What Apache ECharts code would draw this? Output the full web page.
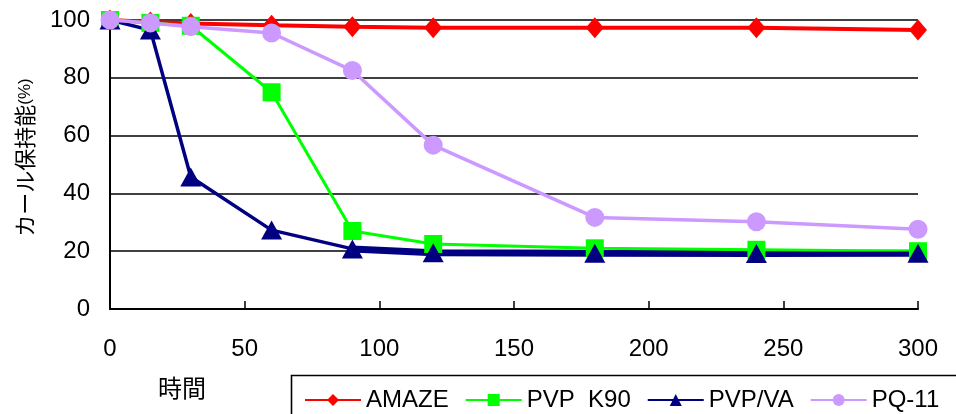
<!DOCTYPE html>
<html>
<head>
<meta charset="utf-8">
<script src="https://cdn.jsdelivr.net/npm/echarts@6/dist/echarts.min.js"></script>
<style>
html,body{margin:0;padding:0;background:#fff;}
#chart{width:956px;height:414px;}
</style>
</head>
<body>
<div id="chart"></div>
<script>
const times = [0, 15, 30, 60, 90, 120, 180, 240, 300];
const amaze = [100, 99.3, 98.8, 98.2, 97.7, 97.3, 97.3, 97.3, 96.5];
const pvpK90 = [100, 99, 98, 75, 27, 22.5, 21, 20.5, 20];
const pvpVA = [100, 96.5, 45.7, 27.3, 20.8, 19.5, 19.3, 19.2, 19.3];
const pq11 = [100, 99, 97.7, 95.5, 82.5, 56.7, 31.7, 30.2, 27.6];
const seriesNames = ['AMAZE', 'PVP  K90', 'PVP/VA', 'PQ-11'];
const yTicks = [0, 20, 40, 60, 80, 100];
const xTicks = [0, 50, 100, 150, 200, 250, 300];

const pairs = arr => times.map((t, i) => [t, arr[i]]);
const FONT = '"Liberation Sans", Arial, sans-serif';

const chart = echarts.init(document.getElementById('chart'));
chart.setOption({
  animation: false,
  backgroundColor: '#fff',
  grid: { left: 110, right: 38, top: 20, bottom: 105 },
  xAxis: {
    type: 'value', min: xTicks[0], max: xTicks[xTicks.length - 1], interval: 50,
    axisLine: { show: true, lineStyle: { color: '#000', width: 2 } },
    axisTick: { show: true, inside: true, length: 8, lineStyle: { color: '#000', width: 1.5 } },
    splitLine: { show: false },
    axisLabel: { color: '#000', fontSize: 24, fontFamily: FONT, margin: 28 }
  },
  yAxis: {
    type: 'value', min: yTicks[0], max: yTicks[yTicks.length - 1], interval: 20,
    name: '{a|カール保持能}{b|(%)}',
    nameLocation: 'middle', nameRotate: 90, nameGap: 74,
    nameTextStyle: {
      padding: [0, 0, 0, 14],
      rich: {
        a: { fontSize: 22, fontFamily: '"Noto Sans CJK JP", sans-serif', color: '#000' },
        b: { fontSize: 17, fontFamily: FONT, color: '#000' }
      }
    },
    axisLine: { show: true, lineStyle: { color: '#000', width: 2 } },
    axisTick: { show: false },
    splitLine: { show: true, lineStyle: { color: '#000', width: 1.6 } },
    axisLabel: { color: '#000', fontSize: 24, fontFamily: FONT, margin: 20 }
  },
  legend: {
    data: seriesNames,
    left: 299, top: 383, width: 700, orient: 'horizontal',
    itemWidth: 56, itemHeight: 15, itemGap: 16,
    textStyle: { color: '#000', fontSize: 24, fontFamily: FONT }
  },
  graphic: [
    { type: 'rect', left: 289, top: 373, shape: { width: 700, height: 60 },
      style: { fill: 'none', stroke: '#000', lineWidth: 1.6 }, z: 0 },
    { type: 'text', x: 182, y: 388,
      style: { text: '時間', fontSize: 24, fontFamily: '"Noto Sans CJK JP", sans-serif', fill: '#000',
               align: 'center', verticalAlign: 'middle', textAlign: 'center', textVerticalAlign: 'middle' } }
  ],
  series: [
    { name: seriesNames[0], type: 'line', data: pairs(amaze), clip: false,
      symbol: 'diamond', symbolSize: [18, 21],
      itemStyle: { color: '#FF0000' }, lineStyle: { color: '#FF0000', width: 4 } },
    { name: 'PVP/VA-overlay', type: 'line', data: pairs(pvpVA).map((p, i) => i >= 4 ? p : [p[0], null]),
      clip: false, showSymbol: false, silent: true, connectNulls: false,
      itemStyle: { color: '#000080' }, lineStyle: { color: '#000080', width: 7 } },
    { name: seriesNames[1], type: 'line', data: pairs(pvpK90), clip: false,
      symbol: 'rect', symbolSize: 18,
      itemStyle: { color: '#00FF00' }, lineStyle: { color: '#00FF00', width: 3 } },
    { name: seriesNames[2], type: 'line', data: pairs(pvpVA), clip: false,
      symbol: 'triangle', symbolSize: [21, 19],
      itemStyle: { color: '#000080' }, lineStyle: { color: '#000080', width: 3.5 } },
    { name: seriesNames[3], type: 'line', data: pairs(pq11), clip: false,
      symbol: 'circle', symbolSize: 19,
      itemStyle: { color: '#CC99FF' }, lineStyle: { color: '#CC99FF', width: 3.5 } }
  ]
});
</script>
</body>
</html>
